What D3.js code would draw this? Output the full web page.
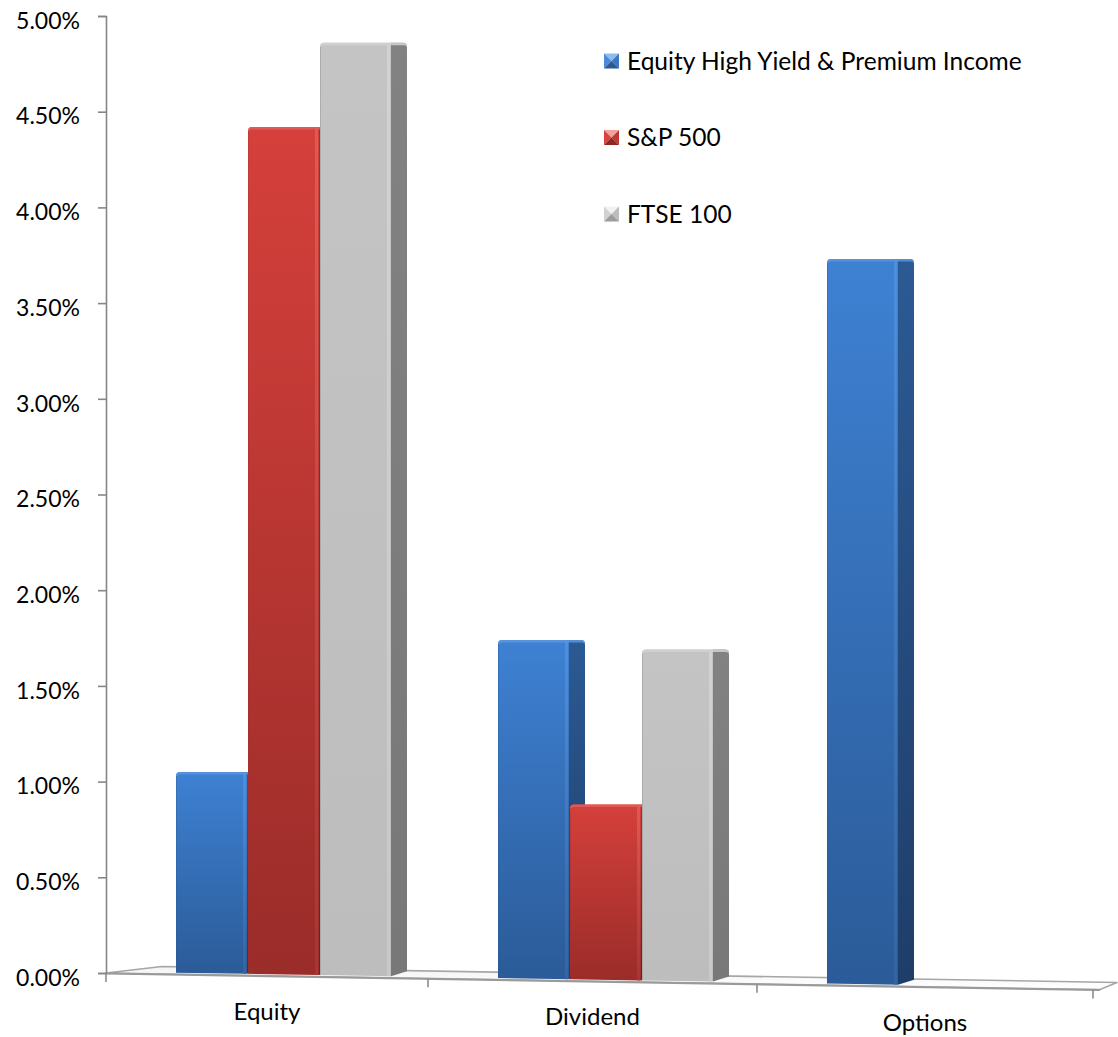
<!DOCTYPE html>
<html>
<head>
<meta charset="utf-8">
<script src="https://cdn.jsdelivr.net/npm/d3@7"></script>
<style>
  html, body { margin: 0; padding: 0; background: #ffffff; }
  svg { display: block; }
</style>
</head>
<body>
<svg id="chart" width="1118" height="1037"></svg>
<script>
// ---------------- DATA ----------------
const categories = ["Equity", "Dividend", "Options"];
const seriesNames = ["Equity High Yield & Premium Income", "S&P 500", "FTSE 100"];
const highYieldValues = [1.05, 1.74, 3.73];
const sp500Values = [4.42, 0.88, 0];
const ftse100Values = [4.86, 1.69, 0];
const yTickValues = [0, 0.5, 1, 1.5, 2, 2.5, 3, 3.5, 4, 4.5, 5];
const yTickLabels = ["0.00%", "0.50%", "1.00%", "1.50%", "2.00%", "2.50%", "3.00%", "3.50%", "4.00%", "4.50%", "5.00%"];

const seriesValues = [highYieldValues, sp500Values, ftse100Values];

// ---------------- STYLE ----------------
const W = 1118, H = 1037;
const FONT = "Lato, 'Open Sans', sans-serif";
const palette = [
  { front: ["#3e81d3", "#2b5b98"], side: ["#2c5a94", "#1e3e69"], strip: ["#5194e2", "#3467a6"], cap: "#5b97df",
    mark: ["#8dbcf2", "#4a8ad8", "#3a76c2", "#2a5a96"] },
  { front: ["#d5403b", "#9a2c29"], side: ["#a0302c", "#6f201e"], strip: ["#e2605b", "#ad3632"], cap: "#e05f5a",
    mark: ["#f4a19d", "#d8433e", "#c0392f", "#8e2623"] },
  { front: ["#c4c4c4", "#bdbdbd"], side: ["#828282", "#787878"], strip: ["#d6d6d6", "#cbcbcb"], cap: "#d2d2d2",
    mark: ["#f2f2f2", "#d2d2d2", "#bdbdbd", "#9c9c9c"] }
];

const svg = d3.select("#chart");
const defs = svg.append("defs");

function fitFont(sample, target) {
  const base = 20;
  const t = svg.append("text").attr("font-family", FONT).attr("font-size", base).text(sample);
  const w = t.node().getComputedTextLength();
  t.remove();
  return base * target / w;
}
const tickFont = fitFont(yTickLabels[0], 64);
const legendFont = fitFont(seriesNames[0], 395);
const catFont = fitFont(categories[0], 67);

// ---------------- SCALES ----------------
const y = d3.scaleLinear().domain([0, 5]).range([973, 16]);
// perspective-ish category axis (tick positions along the floor front edge)
const xc = d3.scaleLinear().domain([0, 1, 2, 3]).range([106, 428, 757, 1093]);
const xs = d3.scaleBand().domain(seriesNames).range([0, 216]);
const groupOffset = 70, frontW = 71, sideW = 16, sideRise = 5, slope = 0.01668;
const fy = x => y(0) + (x - xc(0)) * slope;        // floor front edge
const backY = x => fy(x) - 7.4;                     // floor back edge

// gradients
palette.forEach((p, i) => {
  [["front", p.front], ["side", p.side], ["strip", p.strip]].forEach(([k, c]) => {
    const g = defs.append("linearGradient").attr("id", `g-${k}-${i}`)
      .attr("x1", 0).attr("y1", 0).attr("x2", 0).attr("y2", 1);
    g.append("stop").attr("offset", "0%").attr("stop-color", c[0]);
    g.append("stop").attr("offset", "100%").attr("stop-color", c[1]);
  });
});
const fg = defs.append("linearGradient").attr("id", "g-floor").attr("x1", 0).attr("y1", 0).attr("x2", 0).attr("y2", 1);
fg.append("stop").attr("offset", "0%").attr("stop-color", "#f4f4f4");
fg.append("stop").attr("offset", "100%").attr("stop-color", "#ffffff");

// ---------------- FLOOR ----------------
const x0f = xc(0), x1f = W - 1;
const floorPts = [
  [x0f, fy(x0f)], [x0f + 56, backY(x0f + 56)], [x1f, backY(x1f)], [x1f - 17, fy(x1f - 17)]
];
svg.append("path")
  .attr("d", d3.line()(floorPts) + "Z")
  .attr("fill", "url(#g-floor)")
  .attr("stroke", "#a6a6a6")
  .attr("stroke-width", 1.6)
  .attr("stroke-linejoin", "round");
svg.append("line")
  .attr("x1", x0f).attr("y1", fy(x0f) + 0.5).attr("x2", x1f - 17).attr("y2", fy(x1f - 17) + 0.5)
  .attr("stroke", "#9a9a9a").attr("stroke-width", 2);

// category ticks
svg.append("g").selectAll("line").data(d3.range(categories.length + 1)).join("line")
  .attr("x1", i => xc(i)).attr("x2", i => xc(i))
  .attr("y1", i => fy(xc(i))).attr("y2", i => fy(xc(i)) + 9)
  .attr("stroke", "#8c8c8c").attr("stroke-width", 1.6);

// category labels
svg.append("g").selectAll("text").data(categories).join("text")
  .attr("x", (d, i) => xc(i + 0.5))
  .attr("y", (d, i) => fy(xc(i + 0.5)) + 44)
  .attr("text-anchor", "middle")
  .attr("font-family", FONT).attr("font-size", catFont).attr("fill", "#000")
  .text(d => d);

// ---------------- Y AXIS ----------------
const yAxis = d3.axisLeft(y)
  .tickValues(yTickValues)
  .tickFormat((d, i) => yTickLabels[i])
  .tickSize(8)
  .tickPadding(18);
const ya = svg.append("g").attr("transform", `translate(${xc(0)},0)`).call(yAxis);
ya.select(".domain").attr("stroke", "#868686").attr("stroke-width", 1.6);
ya.selectAll(".tick line").attr("stroke", "#868686").attr("stroke-width", 1.6);
ya.selectAll(".tick text")
  .attr("font-family", FONT).attr("font-size", tickFont).attr("fill", "#000")
  .attr("y", 4).attr("dy", "0.36em");

// ---------------- BARS ----------------
const barData = [];
categories.forEach((c, i) => {
  seriesNames.forEach((s, si) => {
    const v = seriesValues[si][i];
    if (v > 0) barData.push({ cat: i, s: si, name: s, v });
  });
});

const r = 4;
const bars = svg.append("g").selectAll("g").data(barData).join("g");
bars.each(function (d) {
  const g = d3.select(this);
  const xa = xc(d.cat) + groupOffset + xs(d.name);
  const xb = xa + frontW;
  const top = y(d.v);
  const ba = fy(xa) - 1.5, bb = fy(xb) - 1.5;
  // side face
  g.append("path")
    .attr("d", `M${xb},${top} H${xb + sideW - r} Q${xb + sideW},${top} ${xb + sideW},${top + r} V${bb - sideRise} L${xb},${bb} Z`)
    .attr("fill", `url(#g-side-${d.s})`);
  // front face
  g.append("path")
    .attr("d", `M${xa},${ba} V${top + r} Q${xa},${top} ${xa + r},${top} H${xb} V${bb} Z`)
    .attr("fill", `url(#g-front-${d.s})`);
  // right-edge highlight strip
  g.append("rect")
    .attr("x", xb - 4).attr("y", top + 2).attr("width", 3).attr("height", Math.max(0, bb - top - 2))
    .attr("fill", `url(#g-strip-${d.s})`).attr("opacity", 0.8);
  // top cap band
  g.append("path")
    .attr("d", `M${xa},${top + r} Q${xa},${top} ${xa + r},${top} H${xb + sideW - r} Q${xb + sideW},${top} ${xb + sideW},${top + r} V${top + r + 0.5} Q${xb + sideW - 1},${top + 2} ${xb + sideW - r},${top + 2.5} H${xa + r} Q${xa + 1},${top + 2.5} ${xa},${top + r + 1} Z`)
    .attr("fill", palette[d.s].cap).attr("opacity", 0.85);
  // faint left edge
  g.append("line")
    .attr("x1", xa + 0.5).attr("x2", xa + 0.5).attr("y1", top + r).attr("y2", ba)
    .attr("stroke", palette[d.s].side[0]).attr("stroke-opacity", 0.35).attr("stroke-width", 1);
});

// ---------------- LEGEND ----------------
const legend = svg.append("g").attr("transform", "translate(604,61)");
const items = legend.selectAll("g").data(seriesNames).join("g")
  .attr("transform", (d, i) => `translate(0,${i * 76.5})`);
const m = 15, h = m / 2;
items.each(function (d, i) {
  const g = d3.select(this);
  const c = palette[i].mark;
  const tris = [
    [[0, -h], [m, -h], [h, 0]],
    [[0, -h], [0, h], [h, 0]],
    [[m, -h], [m, h], [h, 0]],
    [[0, h], [m, h], [h, 0]]
  ];
  tris.forEach((t, k) => {
    g.append("path").attr("d", d3.line()(t) + "Z").attr("fill", c[k]);
  });
  g.append("text")
    .attr("x", 23).attr("y", 0).attr("dy", "0.36em")
    .attr("font-family", FONT).attr("font-size", legendFont).attr("fill", "#000")
    .text(d);
});
</script>
</body>
</html>
